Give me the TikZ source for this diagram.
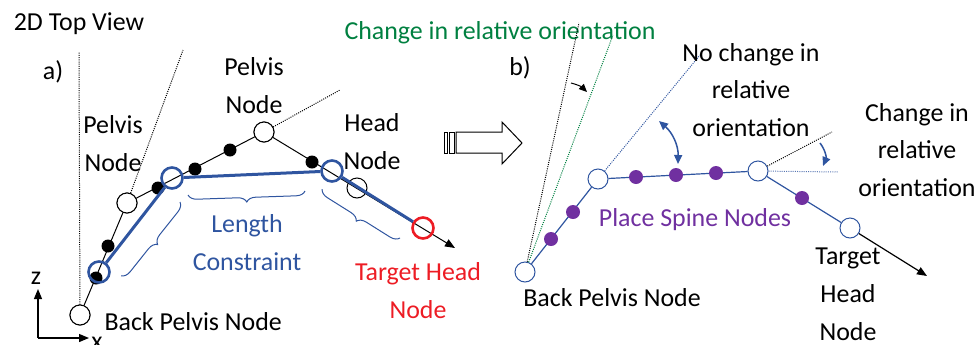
\documentclass[tikz,border=0pt]{standalone}
\usepackage{fontspec}
\setmainfont{Carlito}
\usetikzlibrary{arrows.meta,decorations.pathreplacing}
\definecolor{ikblue}{RGB}{47,85,160}
\definecolor{ikred}{RGB}{237,28,36}
\definecolor{ikgreen}{RGB}{0,128,64}
\definecolor{ikpurple}{RGB}{112,48,160}
\begin{document}
\begin{tikzpicture}[
            x=1bp, y=-1bp,
            font=\fontsize{26}{38}\selectfont,
            every node/.style={align=center},
            opennode/.style={circle, draw, fill=white, line width=1bp, minimum size=20bp, inner sep=0pt},
            bluenode/.style={opennode, draw=ikblue},
            jointdot/.style={circle, fill=black, minimum size=13bp, inner sep=0pt},
            spinedot/.style={circle, fill=ikpurple, minimum size=14bp, inner sep=0pt},
            ring/.style={circle, draw=#1, line width=2.6bp, minimum size=21bp, inner sep=0pt},
            fine/.style={line width=1bp, dash pattern=on 1bp off 1.2bp},
            tip/.style={-{Triangle[length=10bp, width=8bp]}},
            sbrace/.style={draw=ikblue, line width=1bp, decorate, decoration={brace, amplitude=9bp}}
        ]
            \useasboundingbox (0,0) rectangle (979,344);
            % panel a
            \node (title) at (79,24) {2D Top View};
            \node (la) at (53,72) {a)};
            \node[opennode] (bp) at (80,315) {};
            \node[opennode] (lp) at (127,203) {};
            \node[opennode] (tp) at (264,132) {};
            \coordinate (tipa) at (455,248);
            \coordinate (va) at (79,52);
            \coordinate (ua) at (183,50);
            \coordinate (wa) at (340,90);
            \draw[fine] (bp) -- (va);
            \draw[fine] (lp) -- (ua);
            \draw[fine] (tp) -- (wa);
            \draw[line width=1bp] (bp) -- (lp) -- (tp);
            \draw[line width=1bp, tip] (tp) -- (tipa);
            \node[opennode] (bp) at (80,315) {};
            \node[opennode] (lp) at (127,203) {};
            \node[opennode] (tp) at (264,132) {};
            \node[circle, draw, line width=1bp, minimum size=20bp, inner sep=0pt] (hd) at (357,188) {};
            \node[jointdot] (j1) at (96,278) {};
            \node[jointdot] (j2) at (108,246) {};
            \node[jointdot] (j3) at (158,188) {};
            \node[jointdot] (j4) at (195,169) {};
            \node[jointdot] (j5) at (230,150) {};
            \node[jointdot] (j6) at (312,162) {};
            \node[ring=ikblue] (r1) at (99,272) {};
            \node[ring=ikblue] (r2) at (172,178) {};
            \node[ring=ikblue] (r3) at (332,171) {};
            \node[ring=ikred] (tgt) at (423,228) {};
            \draw[ikblue, line width=3bp] (r1) -- (r2) -- (r3) -- (tgt);
            \draw[sbrace] (180,202) -- (121,276);
            \draw[sbrace] (305,191) -- (188,195);
            \draw[sbrace] (400,238) -- (322,189);
            \node (lpl) at (113,144) {Pelvis\\Node};
            \node (tpl) at (254,86) {Pelvis\\Node};
            \node (hdl) at (372,142) {Head\\Node};
            \node[text=ikblue] (lcl) at (247,243) {Length\\Constraint};
            \node[text=ikred] (tgl) at (418,291) {Target Head\\Node};
            \node[anchor=west] (bpl) at (101,322) {Back Pelvis Node};
            \coordinate (org) at (38,338);
            \coordinate (zax) at (38,289);
            \coordinate (xax) at (89,338);
            \draw[line width=1.2bp, tip] (org) -- (zax);
            \draw[line width=1.2bp, tip] (org) -- (xax);
            \node (zl) at (36,278) {z};
            \node (xl) at (97,343) {x};
            % hollow arrow
            \draw[line width=1bp, fill=white] (456,132) -- (502,132) -- (502,122) -- (522,143) -- (502,164) -- (502,153) -- (456,153) -- cycle;
            \draw[line width=1bp] (444,132) rectangle (447,153);
            \draw[line width=1bp] (449,132) rectangle (454,153);
            % panel b
            \node[text=ikgreen] (chg) at (500,33) {Change in relative orientation};
            \node (lb) at (520,68) {b)};
            \node[bluenode] (bb) at (525,272) {};
            \node[bluenode] (bm) at (598,179) {};
            \node[bluenode] (bt) at (758,171) {};
            \node[bluenode] (bh) at (850,228) {};
            \coordinate (tipb) at (927,276);
            \coordinate (kb) at (579,23);
            \coordinate (gb) at (613,35);
            \coordinate (nb) at (700,55);
            \coordinate (cb) at (832,132);
            \coordinate (hb) at (838,172);
            \draw[fine] (bb) -- (kb);
            \draw[fine, draw=ikgreen] (bb) -- (gb);
            \draw[fine, draw=ikblue] (bm) -- (nb);
            \draw[fine] (bt) -- (cb);
            \draw[fine, draw=ikblue!80] (bt) -- (hb);
            \draw[ikblue, line width=1.2bp] (bb) -- (bm) -- (bt) -- (bh);
            \draw[line width=1.2bp, tip] (bh) -- (tipb);
            \node[spinedot] (s1) at (551,239) {};
            \node[spinedot] (s2) at (573,212) {};
            \node[spinedot] (s3) at (636,177) {};
            \node[spinedot] (s4) at (676,175) {};
            \node[spinedot] (s5) at (716,173) {};
            \node[spinedot] (s6) at (802,198) {};
            \coordinate (ka1) at (571,83);
            \coordinate (ka2) at (587,92);
            \draw[line width=1bp, -{Triangle[length=8bp, width=7bp]}] (ka1) to[bend left=15] (ka2);
            \coordinate (na1) at (659,121);
            \coordinate (na2) at (678,164);
            \draw[ikblue, line width=1.5bp, {Triangle[length=9bp, width=8bp]}-{Triangle[length=9bp, width=8bp]}] (na1) to[bend left=25] (na2);
            \coordinate (ca1) at (820,143);
            \coordinate (ca2) at (823,166);
            \draw[ikblue, line width=1.5bp, -{Triangle[length=9bp, width=8bp]}] (ca1) to[bend left=30] (ca2);
            \node (ncl) at (751,90) {No change in\\relative\\orientation};
            \node (cil) at (917,150) {Change in\\relative\\orientation};
            \node[text=ikpurple] (psl) at (695,220) {Place Spine Nodes};
            \node (bbl) at (612,298) {Back Pelvis Node};
            \node (thl) at (848,294) {Target\\Head\\Node};
        \end{tikzpicture}
\end{document}
